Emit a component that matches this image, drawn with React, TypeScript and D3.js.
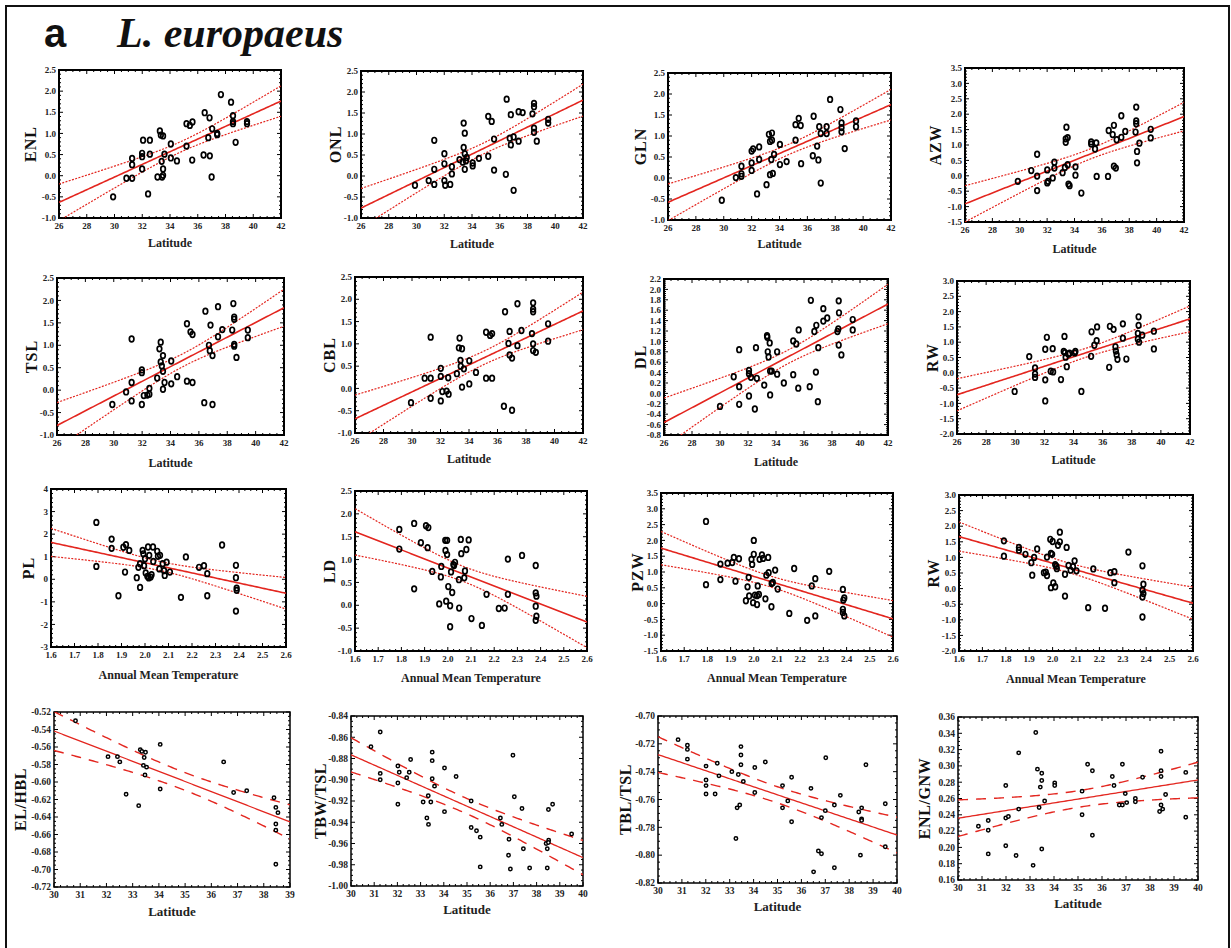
import * as d3 from 'd3';

// ---- data: [x, y] per specimen ----
const ENL = [[29.9,-0.5],[30.86,-0.06],[31.27,-0.06],[31.27,0.26],[31.27,0.41],[31.99,0.16],[31.99,0.45],[31.99,0.53],[32.06,0.84],[32.55,0.84],[32.55,0.51],[32.42,-0.43],[33.1,-0.03],[33.27,1.06],[33.34,0.96],[33.43,-0.03],[33.5,0.01],[33.4,0.34],[33.5,0.16],[33.5,0.94],[33.6,0.51],[34.06,0.75],[34.06,0.42],[34.5,0.35],[35.19,0.7],[35.19,1.23],[35.43,1.19],[35.62,1.27],[35.6,0.37],[36.42,0.49],[36.5,1.49],[36.76,0.9],[36.85,1.37],[36.87,0.47],[37.04,1.11],[37.0,-0.03],[37.4,1.0],[37.4,0.97],[37.67,1.92],[38.4,1.74],[38.54,1.42],[38.54,1.23],[38.54,1.28],[38.73,0.79],[39.55,1.28],[39.55,1.23]];
const ONL = [[29.89,-0.22],[30.88,-0.11],[31.28,-0.2],[31.28,0.16],[31.28,0.85],[32.01,-0.11],[32.07,-0.22],[32.01,0.29],[32.01,0.53],[32.43,-0.2],[32.55,0.05],[32.55,0.22],[33.1,0.39],[33.34,0.33],[33.4,1.26],[33.4,0.68],[33.48,0.53],[33.48,0.16],[33.48,1.02],[33.56,0.36],[33.62,0.44],[34.05,0.31],[34.05,0.24],[34.5,0.42],[35.17,1.42],[35.17,0.47],[35.42,1.3],[35.59,0.88],[35.59,0.14],[36.44,0.04],[36.5,1.83],[36.72,0.9],[36.8,1.46],[36.8,0.74],[37.0,0.93],[37.0,-0.34],[37.36,1.53],[37.36,0.83],[37.65,1.51],[38.36,1.48],[38.47,1.73],[38.47,1.65],[38.47,1.14],[38.47,1.04],[38.67,0.83],[39.49,1.35],[39.49,1.26]];
const GLN = [[29.86,-0.53],[30.87,0.01],[31.27,0.1],[31.27,0.28],[31.27,0.04],[32.0,0.36],[32.0,0.18],[32.0,0.64],[32.11,0.69],[32.39,-0.38],[32.54,0.74],[32.54,0.44],[33.07,-0.16],[33.24,1.04],[33.32,0.87],[33.46,1.07],[33.46,0.9],[33.32,0.08],[33.52,0.11],[33.41,0.44],[33.61,0.56],[34.03,0.8],[34.03,0.32],[34.51,0.39],[35.15,0.9],[35.15,1.27],[35.38,1.42],[35.52,1.25],[35.55,0.34],[36.39,0.53],[36.45,1.47],[36.7,0.76],[36.79,0.43],[36.85,1.22],[36.96,1.06],[36.96,-0.12],[37.38,1.22],[37.38,1.06],[37.63,1.87],[38.37,1.63],[38.45,1.31],[38.45,1.2],[38.45,1.1],[38.68,0.7],[39.49,1.36],[39.49,1.22]];
const AZW = [[29.86,-0.18],[30.84,0.17],[31.27,0.7],[31.27,-0.01],[31.27,-0.48],[32.01,0.19],[32.01,-0.23],[32.07,-0.18],[32.41,-0.07],[32.53,0.44],[32.53,0.25],[33.13,0.1],[33.3,0.27],[33.36,1.09],[33.41,1.58],[33.5,1.24],[33.36,1.2],[33.5,0.36],[33.56,-0.27],[33.64,-0.32],[34.07,0.29],[34.07,0.02],[34.5,-0.56],[35.22,1.1],[35.22,1.03],[35.5,0.87],[35.59,1.07],[35.62,-0.02],[36.45,-0.02],[36.5,1.47],[36.79,1.34],[36.88,1.64],[36.88,0.31],[37.02,0.25],[37.08,1.17],[37.42,1.95],[37.42,1.25],[37.71,1.44],[38.51,2.23],[38.51,1.78],[38.51,1.69],[38.46,1.42],[38.57,0.79],[38.57,0.42],[38.74,1.06],[39.57,1.51],[39.57,1.23]];
const TSL = [[29.9,-0.32],[30.87,-0.04],[31.26,0.17],[31.26,-0.24],[31.26,1.14],[31.98,0.45],[31.98,0.39],[31.98,-0.32],[32.12,-0.12],[32.37,-0.11],[32.51,0.04],[32.51,-0.09],[33.06,0.27],[33.22,0.92],[33.31,1.07],[33.31,0.63],[33.39,0.54],[33.47,0.77],[33.47,0.42],[33.47,0.02],[33.58,0.17],[34.05,0.65],[34.05,0.14],[34.47,0.3],[35.16,1.48],[35.16,0.2],[35.41,1.3],[35.55,1.24],[35.55,0.17],[36.38,-0.28],[36.46,1.76],[36.71,1.0],[36.77,0.88],[36.82,1.45],[36.96,0.77],[36.96,-0.32],[37.35,1.19],[37.35,1.86],[37.65,1.35],[38.35,1.34],[38.43,1.93],[38.49,1.63],[38.49,1.58],[38.49,1.02],[38.49,0.98],[38.65,0.73],[39.45,1.34],[39.45,1.17]];
const CBL = [[29.93,-0.32],[30.89,0.23],[31.31,0.23],[31.31,-0.22],[31.31,1.15],[32.02,0.45],[32.02,0.27],[32.02,-0.28],[32.13,-0.07],[32.43,-0.06],[32.57,-0.13],[32.54,0.24],[33.15,0.33],[33.34,1.13],[33.29,0.91],[33.51,0.89],[33.4,0.63],[33.42,0.5],[33.51,0.03],[33.64,0.44],[34.02,0.62],[34.02,0.1],[34.49,0.36],[35.2,1.26],[35.2,0.23],[35.48,1.19],[35.62,1.23],[35.62,0.23],[36.45,-0.4],[36.53,1.72],[36.77,1.01],[36.85,0.75],[36.85,1.28],[37.02,0.68],[37.02,-0.49],[37.4,1.9],[37.4,0.96],[37.68,1.3],[38.42,1.23],[38.5,1.92],[38.5,1.78],[38.5,1.72],[38.5,1.0],[38.5,0.85],[38.69,0.81],[39.55,1.45],[39.55,1.06]];
const DL = [[30.0,-0.25],[30.98,0.32],[31.37,0.84],[31.37,0.13],[31.37,-0.21],[32.07,0.44],[32.07,0.38],[32.07,-0.05],[32.21,0.31],[32.49,-0.3],[32.57,0.88],[32.63,0.29],[33.16,0.16],[33.36,1.11],[33.38,1.08],[33.41,0.8],[33.47,0.7],[33.55,0.97],[33.58,0.43],[33.69,0.43],[33.58,-0.03],[34.08,0.8],[34.08,0.37],[34.56,0.2],[35.23,1.01],[35.23,0.36],[35.45,0.95],[35.62,1.22],[35.59,0.1],[36.41,0.13],[36.49,1.79],[36.74,1.19],[36.88,1.31],[36.85,0.41],[37.02,0.88],[36.99,-0.16],[37.38,1.39],[37.38,1.63],[37.66,1.45],[38.39,1.19],[38.45,1.24],[38.48,1.78],[38.5,1.55],[38.48,0.93],[38.67,0.74],[39.48,1.42],[39.48,1.22]];
const RW = [[29.96,-0.61],[30.96,0.53],[31.36,0.16],[31.36,-0.04],[31.36,-0.15],[32.06,0.77],[32.17,1.16],[32.06,-0.23],[32.06,-0.92],[32.44,0.05],[32.57,0.79],[32.6,0.03],[33.14,-0.22],[33.38,1.19],[33.33,0.7],[33.41,0.66],[33.46,0.51],[33.54,0.2],[33.65,0.61],[33.73,0.64],[34.08,0.65],[34.13,0.7],[34.54,-0.61],[35.21,0.54],[35.24,1.34],[35.43,0.9],[35.62,1.5],[35.59,1.05],[36.45,0.18],[36.5,1.52],[36.75,1.42],[36.88,0.85],[36.91,0.71],[36.96,0.59],[37.02,0.44],[37.39,1.13],[37.39,1.6],[37.63,0.45],[38.47,1.83],[38.47,1.55],[38.42,1.29],[38.42,1.1],[38.5,1.0],[38.72,1.23],[39.52,1.36],[39.52,0.78]];
const PL = [[1.793,2.52],[1.793,0.57],[1.858,1.78],[1.858,1.37],[1.887,-0.73],[1.908,1.42],[1.919,1.53],[1.915,0.32],[1.933,1.28],[1.965,0.07],[1.979,-0.36],[1.972,0.53],[1.979,0.69],[1.99,1.28],[1.993,1.13],[1.996,0.6],[2.0,0.91],[2.003,0.28],[2.01,0.13],[2.013,1.43],[2.016,0.06],[2.018,1.06],[2.024,0.1],[2.028,0.2],[2.034,1.43],[2.035,0.79],[2.052,1.24],[2.055,1.02],[2.064,1.06],[2.061,0.46],[2.075,0.69],[2.081,0.38],[2.084,0.17],[2.092,0.76],[2.106,0.32],[2.153,-0.8],[2.174,0.99],[2.23,0.53],[2.251,0.6],[2.265,0.25],[2.265,-0.73],[2.328,1.52],[2.387,0.62],[2.387,0.07],[2.39,-0.39],[2.39,-0.49],[2.387,-1.41]];
const LD = [[1.791,1.66],[1.791,1.23],[1.855,1.79],[1.855,0.36],[1.884,1.37],[1.906,1.74],[1.916,1.7],[1.913,1.26],[1.933,0.74],[1.963,0.03],[1.972,0.85],[1.97,0.62],[1.989,1.42],[1.997,1.42],[1.99,1.2],[1.997,1.11],[1.993,0.09],[2.002,0.41],[2.01,-0.01],[2.01,-0.47],[2.014,0.73],[2.019,0.28],[2.024,0.89],[2.031,0.94],[2.027,0.87],[2.048,0.56],[2.049,-0.06],[2.058,1.13],[2.056,1.44],[2.071,0.6],[2.074,0.75],[2.08,1.22],[2.09,1.43],[2.102,-0.29],[2.147,-0.44],[2.167,0.24],[2.22,-0.07],[2.245,-0.06],[2.259,1.01],[2.259,0.24],[2.32,1.09],[2.379,0.87],[2.379,0.27],[2.382,0.2],[2.379,-0.02],[2.382,-0.24],[2.379,-0.33]];
const PZW = [[1.794,2.6],[1.794,0.6],[1.856,1.25],[1.856,0.76],[1.887,1.28],[1.907,1.3],[1.914,1.46],[1.921,0.71],[1.936,1.42],[1.966,0.09],[1.973,0.53],[1.978,0.83],[1.98,0.24],[1.99,1.4],[1.993,1.24],[1.997,0.03],[2.0,2.0],[2.0,1.56],[2.005,0.27],[2.014,-0.03],[2.014,0.25],[2.017,0.56],[2.022,0.29],[2.025,1.4],[2.035,1.54],[2.04,1.43],[2.05,0.15],[2.054,0.9],[2.062,1.46],[2.064,0.98],[2.076,-0.1],[2.077,0.64],[2.082,0.67],[2.092,1.06],[2.103,0.46],[2.153,-0.31],[2.174,1.11],[2.23,-0.53],[2.25,0.56],[2.265,0.79],[2.265,-0.39],[2.325,1.02],[2.384,0.45],[2.386,0.11],[2.39,0.18],[2.384,-0.18],[2.384,-0.28],[2.39,-0.39]];
const RW_T = [[1.792,1.53],[1.792,1.04],[1.856,1.32],[1.856,1.23],[1.884,1.1],[1.909,0.83],[1.913,0.43],[1.921,1.0],[1.934,1.27],[1.963,0.51],[1.971,0.53],[1.976,0.42],[1.976,1.01],[1.99,1.58],[1.993,1.13],[2.0,1.51],[1.998,1.1],[1.993,0.03],[2.003,0.18],[2.011,0.06],[2.011,0.77],[2.018,0.64],[2.023,1.39],[2.031,1.5],[2.031,1.81],[2.016,0.72],[2.053,0.46],[2.053,-0.24],[2.06,1.32],[2.068,0.74],[2.077,0.59],[2.087,0.7],[2.094,0.89],[2.102,0.57],[2.152,-0.61],[2.174,0.63],[2.224,-0.63],[2.247,0.51],[2.264,0.54],[2.264,0.19],[2.324,1.17],[2.384,0.73],[2.388,0.14],[2.384,-0.05],[2.388,-0.16],[2.384,-0.27],[2.384,-0.91]];
const EL_HBL = [[30.82,-0.53],[32.06,-0.571],[32.42,-0.571],[32.51,-0.577],[32.75,-0.614],[33.23,-0.627],[33.29,-0.563],[33.35,-0.565],[33.41,-0.581],[33.44,-0.572],[33.47,-0.592],[33.53,-0.583],[33.49,-0.566],[34.05,-0.557],[34.05,-0.608],[36.47,-0.577],[36.85,-0.612],[37.35,-0.61],[38.39,-0.618],[38.46,-0.629],[38.46,-0.648],[38.46,-0.655],[38.54,-0.635],[38.46,-0.694]];
const TBW_TSL = [[30.86,-0.869],[31.26,-0.855],[31.26,-0.894],[31.26,-0.9],[32.02,-0.887],[32.02,-0.903],[32.02,-0.923],[32.08,-0.893],[32.4,-0.898],[32.51,-0.893],[32.57,-0.881],[33.11,-0.921],[33.27,-0.936],[33.33,-0.915],[33.34,-0.942],[33.44,-0.921],[33.5,-0.874],[33.5,-0.882],[33.5,-0.899],[33.6,-0.906],[34.03,-0.889],[34.03,-0.93],[34.53,-0.897],[35.18,-0.92],[35.18,-0.945],[35.41,-0.948],[35.57,-0.954],[35.57,-0.982],[36.44,-0.936],[36.5,-0.942],[36.79,-0.971],[36.81,-0.956],[36.87,-0.984],[36.98,-0.877],[37.04,-0.916],[37.37,-0.927],[37.43,-0.965],[37.7,-0.983],[38.41,-0.96],[38.46,-0.965],[38.46,-0.983],[38.51,-0.928],[38.52,-0.957],[38.51,-0.959],[38.69,-0.923],[39.51,-0.951]];
const TBL_TSL = [[30.84,-0.717],[31.23,-0.721],[31.23,-0.724],[31.23,-0.731],[32.01,-0.736],[32.01,-0.746],[32.01,-0.75],[32.01,-0.756],[32.39,-0.756],[32.48,-0.734],[32.55,-0.743],[33.09,-0.74],[33.26,-0.788],[33.31,-0.766],[33.36,-0.742],[33.42,-0.764],[33.47,-0.722],[33.47,-0.728],[33.47,-0.735],[33.57,-0.747],[34.05,-0.737],[34.05,-0.755],[34.49,-0.733],[35.21,-0.75],[35.21,-0.766],[35.43,-0.761],[35.59,-0.744],[35.59,-0.776],[36.4,-0.752],[36.51,-0.812],[36.71,-0.797],[36.84,-0.799],[36.84,-0.773],[37.02,-0.73],[37.0,-0.768],[37.38,-0.764],[37.38,-0.809],[37.63,-0.757],[38.4,-0.769],[38.47,-0.8],[38.52,-0.766],[38.52,-0.774],[38.52,-0.775],[38.7,-0.735],[39.51,-0.763],[39.51,-0.794]];
const ENL_GNW = [[30.85,0.226],[31.26,0.233],[31.26,0.221],[31.26,0.192],[31.99,0.276],[31.99,0.236],[31.99,0.202],[32.1,0.238],[32.42,0.19],[32.53,0.316],[32.53,0.247],[33.13,0.178],[33.24,0.341],[33.31,0.296],[33.38,0.249],[33.43,0.274],[33.49,0.282],[33.49,0.291],[33.49,0.198],[33.61,0.257],[34.03,0.279],[34.03,0.276],[35.17,0.269],[35.17,0.24],[35.4,0.302],[35.6,0.294],[35.6,0.215],[36.43,0.287],[36.5,0.276],[36.72,0.252],[36.85,0.252],[36.85,0.302],[36.97,0.266],[37.03,0.255],[37.39,0.26],[37.39,0.256],[37.69,0.286],[38.4,0.244],[38.46,0.318],[38.46,0.294],[38.46,0.287],[38.46,0.252],[38.53,0.247],[38.65,0.265],[39.49,0.292],[39.49,0.237]];

const LAT = [26, 42];
const TEMP = [1.6, 2.6];

// box = [left, top, right, bottom], xl = x-title centre y, yl = y-title centre x
const panels = [
  { name: 'ENL', data: ENL, xd: LAT, yd: [-1, 2.5], box: [59, 70, 281, 218], xl: 243, yl: 30 },
  { name: 'ONL', data: ONL, xd: LAT, yd: [-1, 2.5], box: [361, 71, 583, 218], xl: 244, yl: 335 },
  { name: 'GLN', data: GLN, xd: LAT, yd: [-1, 2.5], box: [668, 73, 891, 220], xl: 244, yl: 640 },
  { name: 'AZW', data: AZW, xd: LAT, yd: [-1.5, 3.5], box: [965, 68, 1184, 222], xl: 249, yl: 935 },
  { name: 'TSL', data: TSL, xd: LAT, yd: [-1, 2.5], box: [57, 278, 284, 435], xl: 463, yl: 31 },
  { name: 'CBL', data: CBL, xd: LAT, yd: [-1, 2.5], box: [355, 277, 583, 433], xl: 459, yl: 329 },
  { name: 'DL', data: DL, xd: LAT, yd: [-0.8, 2.2], ystep: 0.2, box: [664, 279, 888, 435], xl: 462, yl: 640 },
  { name: 'RW', data: RW, xd: LAT, yd: [-2, 3], box: [957, 281, 1190, 434], xl: 460, yl: 932 },
  { name: 'PL', data: PL, xd: TEMP, yd: [-3, 4], ystep: 1, ydec: 0, box: [51, 489, 286, 647], xl: 675, yl: 28 },
  { name: 'LD', data: LD, xd: TEMP, yd: [-1, 2.5], box: [355, 491, 587, 651], xl: 678, yl: 329 },
  { name: 'PZW', data: PZW, xd: TEMP, yd: [-1.5, 3.5], box: [661, 493, 893, 651], xl: 678, yl: 637 },
  { name: 'RW', data: RW_T, xd: TEMP, yd: [-2, 3], box: [959, 495, 1193, 651], xl: 679, yl: 933 },
  { name: 'EL/HBL', data: EL_HBL, xd: [30, 39], yd: [-0.72, -0.52], box: [54, 712, 290, 887], xl: 911, yl: 20 },
  { name: 'TBW/TSL', data: TBW_TSL, xd: [30, 40], yd: [-1.0, -0.84], box: [351, 716, 583, 886], xl: 909, yl: 320 },
  { name: 'TBL/TSL', data: TBL_TSL, xd: [30, 40], yd: [-0.82, -0.7], box: [658, 716, 897, 883], xl: 906, yl: 625 },
  { name: 'ENL/GNW', data: ENL_GNW, xd: [30, 40], yd: [0.16, 0.36], box: [958, 717, 1198, 880], xl: 903, yl: 924 },
];

const RED = '#e3261f';
const SERIF = '"Liberation Serif", "Times New Roman", serif';

// least squares fit with 95% band for the mean
function fit(pts) {
  const n = pts.length;
  const mx = d3.mean(pts, (d) => d[0]);
  const my = d3.mean(pts, (d) => d[1]);
  let sxx = 0, sxy = 0;
  for (const [x, y] of pts) { sxx += (x - mx) ** 2; sxy += (x - mx) * (y - my); }
  const b = sxy / sxx, a = my - b * mx;
  let sse = 0;
  for (const [x, y] of pts) sse += (y - a - b * x) ** 2;
  const s = Math.sqrt(sse / (n - 2));
  const t = 1.96 + 2.4 / (n - 2);
  return { f: (x) => a + b * x, hw: (x) => t * s * Math.sqrt(1 / n + (x - mx) ** 2 / sxx) };
}

function steps(lo, hi, step) {
  const k = Math.round((hi - lo) / step);
  return d3.range(k + 1).map((i) => lo + i * step);
}

function Panel({ p, idx }) {
  const [L, T, R, B] = p.box;
  const lower = idx >= 12;
  const isTemp = p.xd === TEMP;
  const x = d3.scaleLinear().domain(p.xd).range([L, R]);
  const y = d3.scaleLinear().domain(p.yd).range([B, T]);

  const xstep = lower ? 1 : isTemp ? 0.1 : 2;
  const xminor = 4;
  const ystep = lower ? 0.02 : p.ystep ?? 0.5;
  const yminor = lower ? 4 : 5;
  const xdec = isTemp ? 1 : 0;
  const ydec = lower ? 2 : p.ydec ?? 1;

  const xt = steps(p.xd[0], p.xd[1], xstep);
  const yt = steps(p.yd[0], p.yd[1], ystep);
  const xm = steps(p.xd[0], p.xd[1], xstep / xminor);
  const ym = steps(p.yd[0], p.yd[1], ystep / yminor);

  const { f, hw } = fit(p.data);
  const xs = d3.range(121).map((i) => p.xd[0] + (i * (p.xd[1] - p.xd[0])) / 120);
  const line = d3.line().x((d) => x(d[0])).y((d) => y(d[1]));
  const mid = line(xs.map((v) => [v, f(v)]));
  const up = line(xs.map((v) => [v, f(v) + hw(v)]));
  const lo = line(xs.map((v) => [v, f(v) - hw(v)]));

  const tickFs = lower ? 9.5 : 9;
  const bandDash = lower ? '10 8' : '2 1.4';
  const clip = `clip${idx}`;
  const tick = (k) => (k ? 2 : 4);

  return (
    <g>
      <clipPath id={clip}>
        <rect x={L} y={T} width={R - L} height={B - T} />
      </clipPath>
      {/* ticks on all four sides, pointing in */}
      <g stroke="#000" strokeWidth={1}>
        {xm.map((v, i) => {
          const minor = i % xminor !== 0;
          return (
            <g key={'x' + i}>
              <line x1={x(v)} x2={x(v)} y1={B} y2={B - tick(minor)} />
              <line x1={x(v)} x2={x(v)} y1={T} y2={T + tick(minor)} />
            </g>
          );
        })}
        {ym.map((v, i) => {
          const minor = i % yminor !== 0;
          return (
            <g key={'y' + i}>
              <line x1={L} x2={L + tick(minor)} y1={y(v)} y2={y(v)} />
              <line x1={R} x2={R - tick(minor)} y1={y(v)} y2={y(v)} />
            </g>
          );
        })}
      </g>
      <rect x={L} y={T} width={R - L} height={B - T} fill="none" stroke="#000" strokeWidth={lower ? 1.5 : 2} />
      <g fontFamily={SERIF} fontWeight="bold" fontSize={tickFs} fill="#222">
        {xt.map((v, i) => (
          <text key={'xl' + i} x={x(v)} y={B + 10.5} textAnchor="middle">
            {v.toFixed(xdec)}
          </text>
        ))}
        {yt.map((v, i) => (
          <text key={'yl' + i} x={L - 3} y={y(v)} dy="0.35em" textAnchor="end">
            {v.toFixed(ydec)}
          </text>
        ))}
      </g>
      <g clipPath={`url(#${clip})`} fill="none" stroke={RED}>
        <path d={up} strokeWidth={lower ? 1.4 : 1.2} strokeDasharray={bandDash} />
        <path d={lo} strokeWidth={lower ? 1.4 : 1.2} strokeDasharray={bandDash} />
        <path d={mid} strokeWidth={lower ? 1.3 : 1.6} />
      </g>
      <g>
        {p.data.map((d, i) =>
          lower ? (
            <circle key={i} cx={x(d[0])} cy={y(d[1])} r={1.7} fill="#fff" stroke="#000" strokeWidth={1.5} />
          ) : (
            <ellipse key={i} cx={x(d[0])} cy={y(d[1])} rx={2.3} ry={2.8} fill="none" stroke="#000" strokeWidth={1.7} />
          )
        )}
      </g>
      <text
        x={(L + R) / 2}
        y={p.xl}
        dy="0.35em"
        textAnchor="middle"
        fontFamily={SERIF}
        fontWeight="bold"
        fontSize={lower ? 13 : 12}
        fill="#222"
      >
        {isTemp ? 'Annual Mean Temperature' : 'Latitude'}
      </text>
      <text
        transform={`translate(${p.yl},${(T + B) / 2}) rotate(-90)`}
        dy="0.35em"
        textAnchor="middle"
        fontFamily={SERIF}
        fontWeight="bold"
        fontSize={lower ? 16 : 16}
        letterSpacing={lower ? 0.6 : 1}
        fill="#111"
      >
        {p.name}
      </text>
    </g>
  );
}

export default function App() {
  return (
    <svg
      width={1231}
      height={948}
      style={{ position: 'absolute', left: 0, top: 0, background: '#fff' }}
    >
      <rect x={0} y={0} width={1231} height={948} fill="#fff" />
      <path d="M6,960 L6,6 L1229,6 L1229,960" fill="none" stroke="#111" strokeWidth={2} />
      <text x={44} y={47} fontFamily='"Liberation Sans", Arial, sans-serif' fontWeight="bold" fontSize={40} fill="#111">
        a
      </text>
      <text x={117} y={47} fontFamily={SERIF} fontWeight="bold" fontStyle="italic" fontSize={42} fill="#111">
        L. europaeus
      </text>
      {panels.map((p, i) => (
        <Panel key={i} p={p} idx={i} />
      ))}
    </svg>
  );
}
